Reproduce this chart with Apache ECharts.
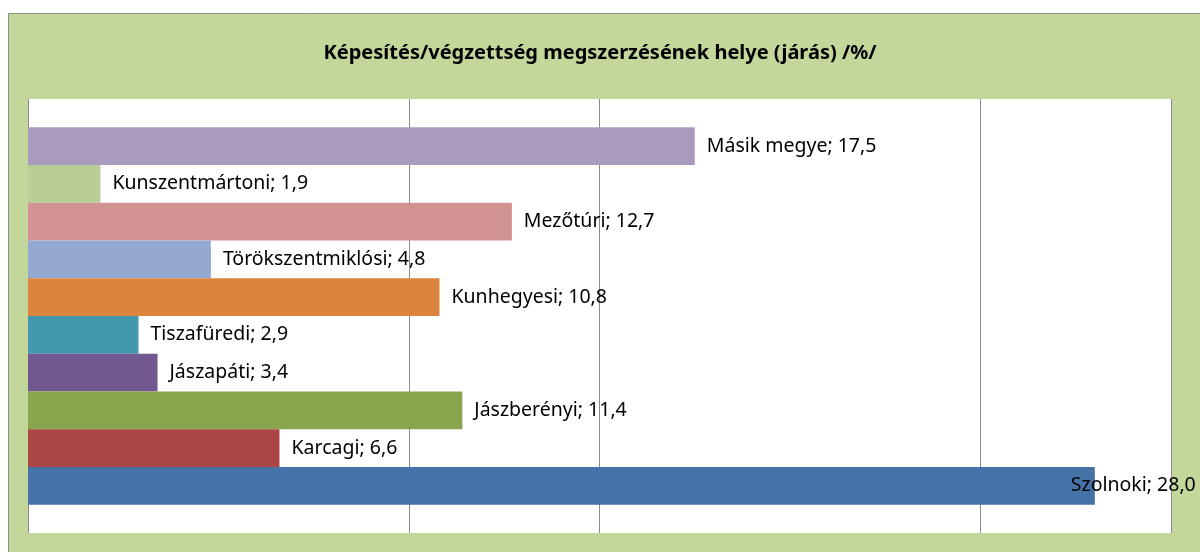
<!DOCTYPE html>
<html>
<head>
<meta charset="utf-8">
<script src="https://cdn.jsdelivr.net/npm/echarts@6/dist/echarts.min.js"></script>
<style>html,body{margin:0;padding:0;background:#fff}#c{width:1200px;height:552px}</style>
</head>
<body>
<div id="c"></div>
<script>
// Series listed top-to-bottom (as drawn)
const names = ['Másik megye', 'Kunszentmártoni', 'Mezőtúri', 'Törökszentmiklósi', 'Kunhegyesi', 'Tiszafüredi', 'Jászapáti', 'Jászberényi', 'Karcagi', 'Szolnoki'];
const values = [17.5, 1.9, 12.7, 4.8, 10.8, 2.9, 3.4, 11.4, 6.6, 28.0];
const colors = ['#A99BBD', '#B9CD96', '#D19392', '#93A9CF', '#DB843D', '#4198AF', '#71588F', '#89A54E', '#AA4643', '#4572A7'];
const xMin = 0, xMax = 30, xStep = 5;
const gridLineValues = [10, 15, 25, 30];
const titleText = 'Képesítés/végzettség megszerzésének helye (járás) /%/';

const tickVals = [];
for (let v = xMin; v <= xMax; v += xStep) tickVals.push(v);
const splitColors = tickVals.map(v => gridLineValues.indexOf(v) >= 0 ? '#8c8c8c' : 'rgba(0,0,0,0)');

const series = names.map((n, i) => ({
  name: n,
  type: 'bar',
  data: [values[i]],
  barGap: '0%',
  barCategoryGap: '13%',
  itemStyle: { color: colors[i] },
  label: {
    show: true,
    position: 'right',
    distance: 12,
    offset: values[i] > 25 ? [-36, 0] : [0, 0],
    color: '#000',
    fontFamily: 'Noto Sans',
    fontSize: 19.5,
    formatter: p => p.seriesName + '; ' + p.value.toFixed(1).replace('.', ',')
  }
}));

const chart = echarts.init(document.getElementById('c'), null, { renderer: 'canvas' });
chart.setOption({
  animation: false,
  backgroundColor: '#fff',
  graphic: [{
    type: 'rect', z: -10, silent: true,
    shape: { x: 8.5, y: 13.5, width: 1200, height: 545 },
    style: { fill: '#C4D79B', stroke: '#8c8c8c', lineWidth: 1 }
  }],
  title: {
    text: titleText,
    left: 'center',
    top: 38,
    textStyle: { fontFamily: 'Noto Sans', fontWeight: 'bold', fontSize: 20, color: '#000' }
  },
  grid: {
    left: 28, right: 29, top: 99, bottom: 19,
    show: true, backgroundColor: '#fff', borderWidth: 0
  },
  xAxis: {
    type: 'value', min: xMin, max: xMax, interval: xStep,
    axisLabel: { show: false }, axisTick: { show: false }, axisLine: { show: false },
    splitLine: { show: true, lineStyle: { color: splitColors, width: 1 } }
  },
  yAxis: {
    type: 'category', data: [''],
    axisLabel: { show: false }, axisTick: { show: false },
    axisLine: { show: true, lineStyle: { color: '#8c8c8c', width: 1 } }
  },
  series: series
});
</script>
</body>
</html>
